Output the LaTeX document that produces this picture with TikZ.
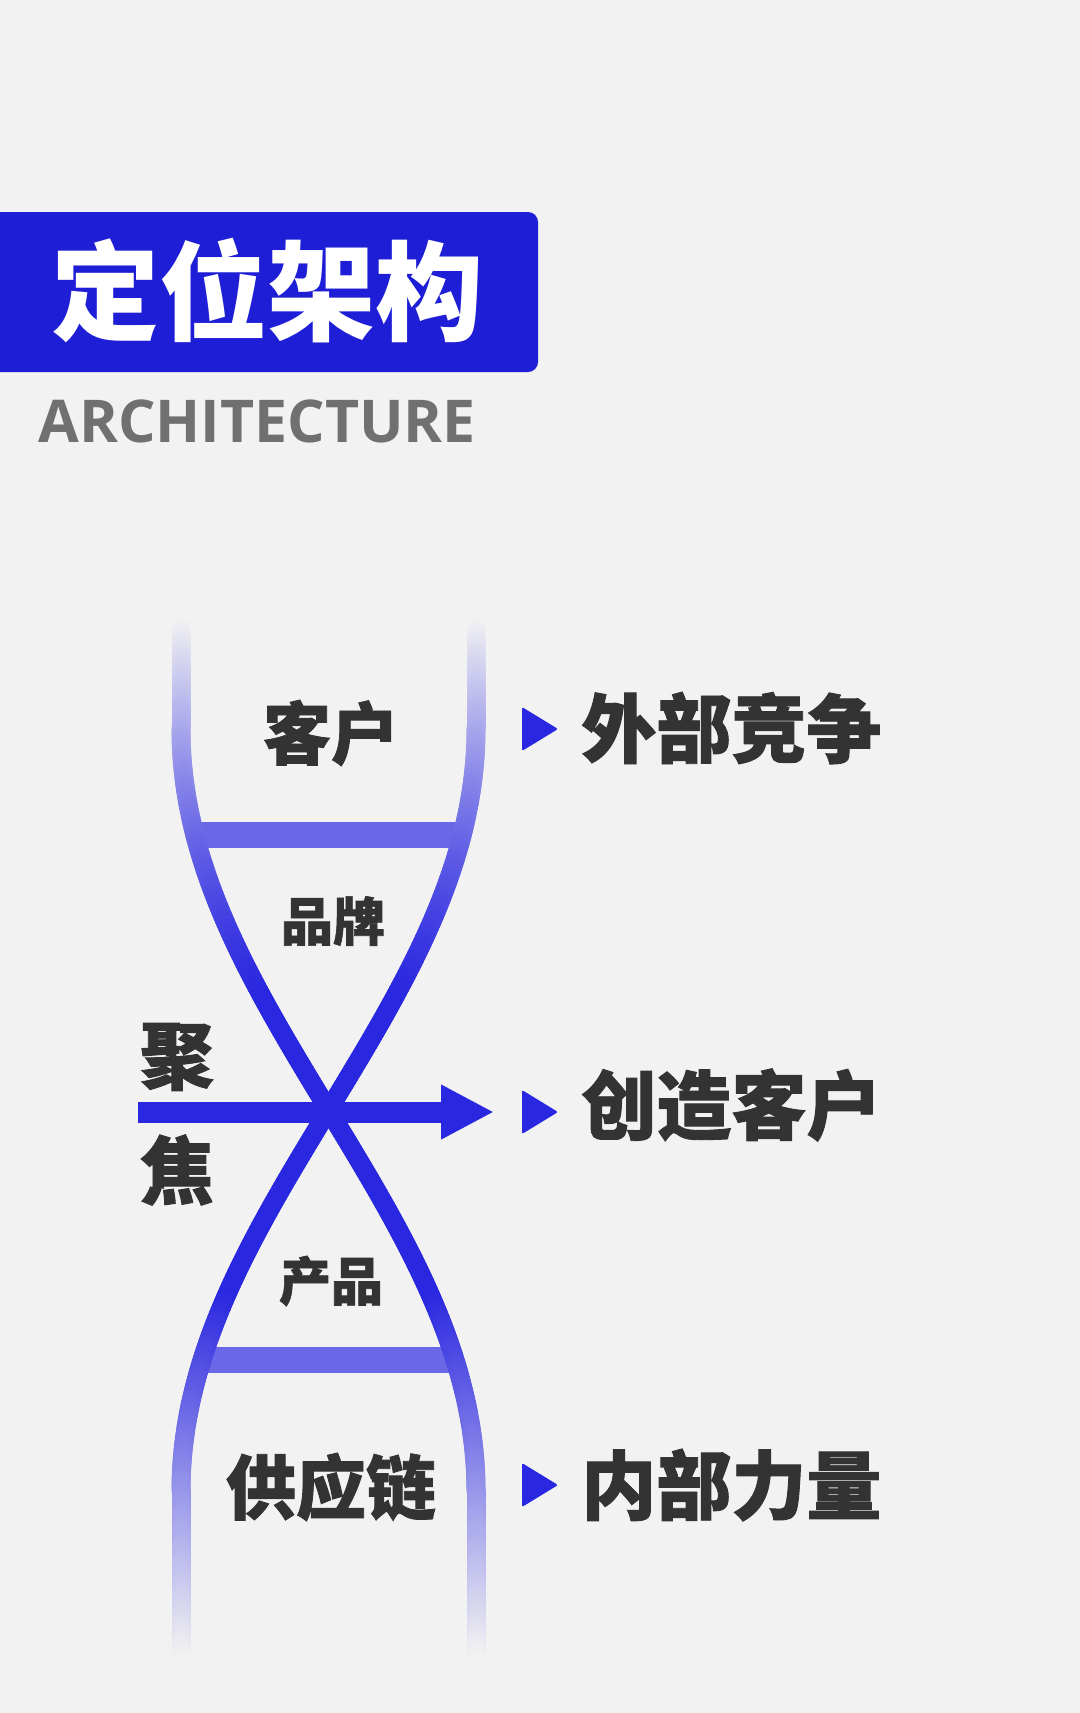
\documentclass[tikz,border=0pt]{standalone}
\usepackage{fontspec}
\usepackage{tikz}
\usetikzlibrary{arrows.meta}
\newfontfamily\cjk{Noto Sans CJK SC}
\newfontfamily\cjkheavy{Noto Sans CJK SC}[BoldFeatures={FakeBold=1.2}]
\newfontfamily\latinsans{Open Sans}
\definecolor{dnaBlue}{HTML}{2A27E0}
\definecolor{titleBlue}{HTML}{1E1ED6}
\definecolor{inkGray}{HTML}{333333}
\definecolor{subGray}{HTML}{707070}
\definecolor{paperGray}{HTML}{F2F2F2}
\colorlet{rungBlue}{dnaBlue!68!paperGray}

\begin{document}
\begin{tikzpicture}[x=0.5pt,y=-0.5pt,
    strandSeg/.style={line width=9.5pt, line cap=round},
    rung/.style={rungBlue, line width=13pt},
    focusArrow/.style={dnaBlue, line width=10.5pt, -{Triangle[length=26.5pt,width=25.5pt]}},
    pointer/.style={fill=dnaBlue, rounded corners=1pt},
    cellText/.style={inner sep=0pt, text=inkGray, font=\cjkheavy\bfseries\fontsize{#1}{#1}\selectfont},
    rowText/.style={inner sep=0pt, anchor=west, text=inkGray, font=\cjkheavy\bfseries\fontsize{37.5pt}{40pt}\selectfont}]
    % Page
    \fill[paperGray] (0,0) rectangle (1080,1713);
    \useasboundingbox (0,0) rectangle (1080,1713);
    % Heading
    \fill[titleBlue, rounded corners=5pt] (-40,212) rectangle (538,372);
    \node[inner sep=0pt, text=white, font=\cjk\bfseries\fontsize{54pt}{54pt}\selectfont] (title) at (267,291) {定位架构};
    \node[anchor=base west, inner sep=0pt, text=subGray, font=\latinsans\bfseries\fontsize{29.5pt}{30pt}\selectfont] (subtitle) at (38,442) {ARCHITECTURE};
    % Rungs
    \draw[rung] (195,835) -- (462,835);
    \draw[rung] (202,1360) -- (455,1360);
    % Double helix, drawn in short pieces that fade towards both ends
    \foreach \i in {0,...,258} {
      \pgfmathsetmacro{\segYa}{627+4*\i}
      \pgfmathsetmacro{\segYb}{\segYa+4}
      \pgfmathsetmacro{\segYm}{\segYa+2}
      \pgfmathsetmacro{\segXa}{147.5*cos(0.23622*(min(max(\segYa,729),1491)-729))}
      \pgfmathsetmacro{\segXb}{147.5*cos(0.23622*(min(max(\segYb,729),1491)-729))}
      \pgfmathsetmacro{\segTop}{min(max((\segYm-627)/373,0),1)}
      \pgfmathsetmacro{\segBot}{min(max((1662-\segYm)/362,0),1)}
      \pgfmathsetmacro{\segOp}{100*min((\segTop+sin(90*\segTop))/2,\segBot)}
      \draw[strandSeg, dnaBlue!\segOp!paperGray] (328.5-\segXa,\segYa) -- (328.5-\segXb,\segYb);
      \draw[strandSeg, dnaBlue!\segOp!paperGray] (328.5+\segXa,\segYa) -- (328.5+\segXb,\segYb);
    }
    % Focus arrow
    \coordinate (focusTail) at (138,1112);
    \coordinate (focusTip) at (494,1112);
    \draw[focusArrow] (focusTail) -- (focusTip);
    % Labels inside the helix
    \node[cellText=34pt] (lblClient) at (331,733) {客户};
    \node[cellText=26pt] (lblBrand) at (333,921) {品牌};
    \node[cellText=26pt] (lblProduct) at (331,1281) {产品};
    \node[cellText=35pt] (lblSupply) at (331,1487) {供应链};
    \node[cellText=37pt] (lblJu) at (177,1057) {聚};
    \node[cellText=37pt] (lblJiao) at (177,1170) {焦};
    % Right column
    \foreach \y in {729,1112,1485}
      \fill[pointer] (522,\y-22) -- (558,\y) -- (522,\y+22) -- cycle;
    \node[rowText] (rowOuter) at (581,728) {外部竞争};
    \node[rowText] (rowCore) at (581,1105) {创造客户};
    \node[rowText] (rowInner) at (581,1485) {内部力量};
\end{tikzpicture}
\end{document}
